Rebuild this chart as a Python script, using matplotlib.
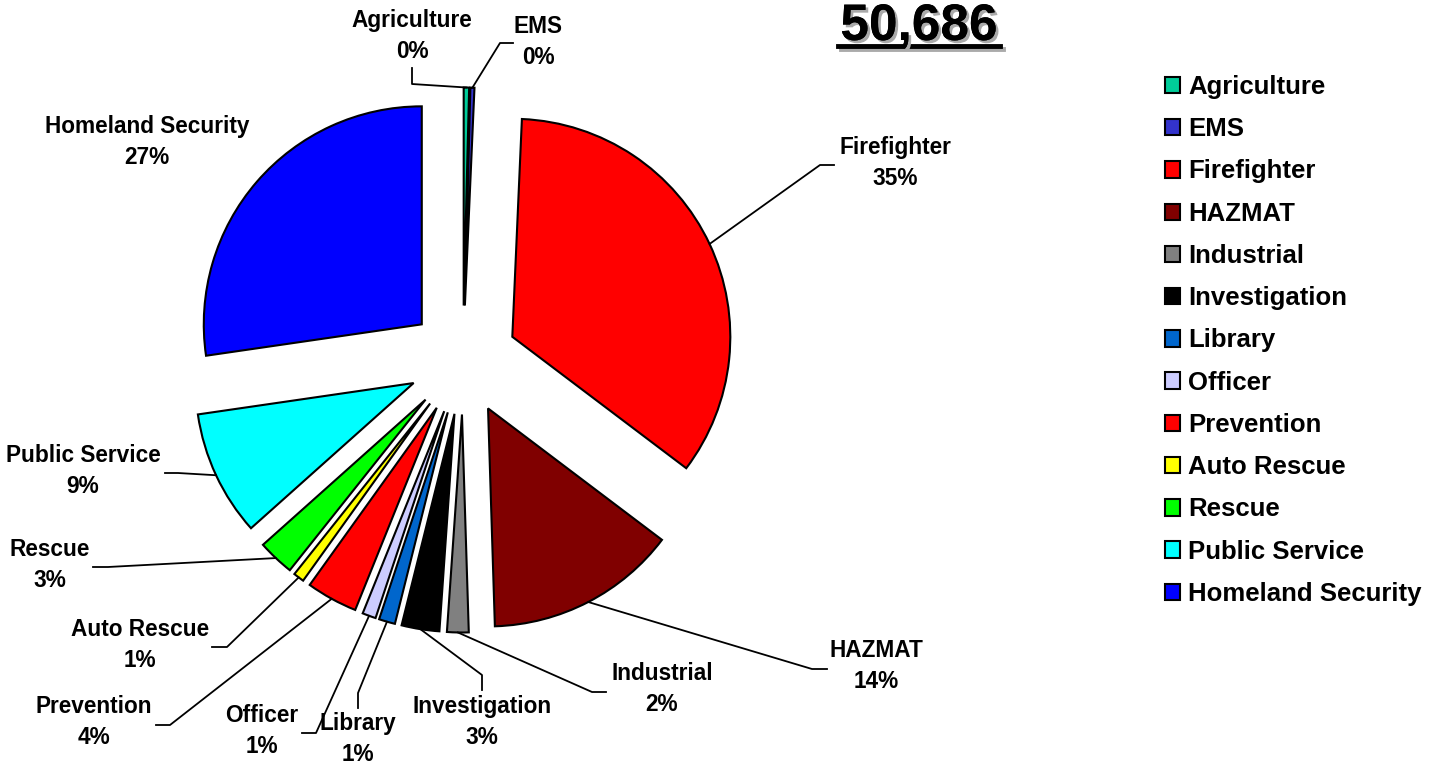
import matplotlib
matplotlib.use('Agg')
import matplotlib.pyplot as plt
import matplotlib.patheffects as pe
from matplotlib.lines import Line2D
import numpy as np

# Dati: categorie e conteggi (totale 50,686)
categorie = ['Agriculture', 'EMS', 'Firefighter', 'HAZMAT', 'Industrial',
             'Investigation', 'Library', 'Officer', 'Prevention', 'Auto Rescue',
             'Rescue', 'Public Service', 'Homeland Security']
conteggi = [203, 152, 17537, 7198, 811, 1419, 608, 507, 1926, 405, 1369, 4714, 13837]
totale = '50,686'
colori = ['#00CC99', '#3333CC', '#FF0000', '#800000', '#808080', '#000000',
          '#0066CC', '#CCCCFF', '#FF0000', '#FFFF00', '#00FF00', '#00FFFF', '#0000FF']

# Layout in pixel (centro torta e raggio)
W, H = 1447, 765
CX, CY, R = 463, 360, 218

def px(x, y):
    return ((x - CX) / R, (CY - y) / R)

# posizione etichette e gomiti delle linee guida (pixel)
pos_etichette = [(412, 36), (538, 42), (895, 163), (876, 666), (662, 689),
                 (482, 722), (358, 739), (262, 731), (94, 722), (140, 645),
                 (50, 565), (83, 471), (147, 142)]
gomiti = [[(412, 68), (412, 84)], [(513, 43), (500, 43)], [(834, 165), (820, 165)],
          [(827, 669), (812, 669)], [(606, 692), (592, 692)], [(482, 690), (482, 675)],
          [(358, 708), (358, 693)], [(302, 733), (316, 733)], [(156, 725), (170, 725)],
          [(212, 647), (227, 647)], [(93, 567), (108, 567)], [(165, 473), (178, 473)],
          []]

font = 'Liberation Sans'
fig = plt.figure(figsize=(W / 100, H / 100), dpi=100)
ax = fig.add_axes([0, 0, 1, 1])

wedges, _ = ax.pie(conteggi, colors=colori, startangle=90, counterclock=False,
                   explode=[0.25] * len(conteggi), radius=1,
                   wedgeprops=dict(edgecolor='black', linewidth=1.5))
ax.set_aspect('auto')
ax.set_xlim(-CX / R, (W - CX) / R)
ax.set_ylim(-(H - CY) / R, CY / R)
ax.axis('off')

tot = sum(conteggi)
for w, nome, val, pos, gom in zip(wedges, categorie, conteggi, pos_etichette, gomiti):
    perc = round(100 * val / tot)
    ax.text(*px(*pos), f'{nome}\n{perc}%', ha='center', va='center',
            fontsize=16.3, fontweight='bold', family=font, linespacing=1.42)
    if gom:
        mid = np.deg2rad((w.theta1 + w.theta2) / 2)
        ax_, ay_ = w.center[0] + w.r * np.cos(mid), w.center[1] + w.r * np.sin(mid)
        xs = [px(*p)[0] for p in gom] + [ax_]
        ys = [px(*p)[1] for p in gom] + [ay_]
        ax.plot(xs, ys, color='black', linewidth=1.3)

# Titolo con ombra e sottolineatura
fig.text(919 / W, 1 - 40 / H, totale, ha='center', va='baseline', fontsize=37,
         fontweight='bold', family=font,
         path_effects=[pe.withSimplePatchShadow(offset=(2, -2), shadow_rgbFace='#aaaaaa', alpha=1), pe.Normal()])
fig.add_artist(Line2D([838 / W, 1000 / W], [1 - 46 / H, 1 - 46 / H], color='black',
                      linewidth=3.5, path_effects=[pe.SimpleLineShadow(offset=(2, -2), shadow_color='#aaaaaa', alpha=1), pe.Normal()]))

# Legenda
leg = fig.legend(wedges, categorie, loc='upper left', bbox_to_anchor=(1165 / W, 1 - 75 / H),
                 frameon=False, prop=dict(family=font, weight='bold', size=18.5),
                 handlelength=0.6, handleheight=0.6, handletextpad=0.3,
                 labelspacing=0.71, borderpad=0, borderaxespad=0)
for h in leg.legend_handles:
    h.set_linewidth(1.5)

plt.savefig('out.png', dpi=100)
